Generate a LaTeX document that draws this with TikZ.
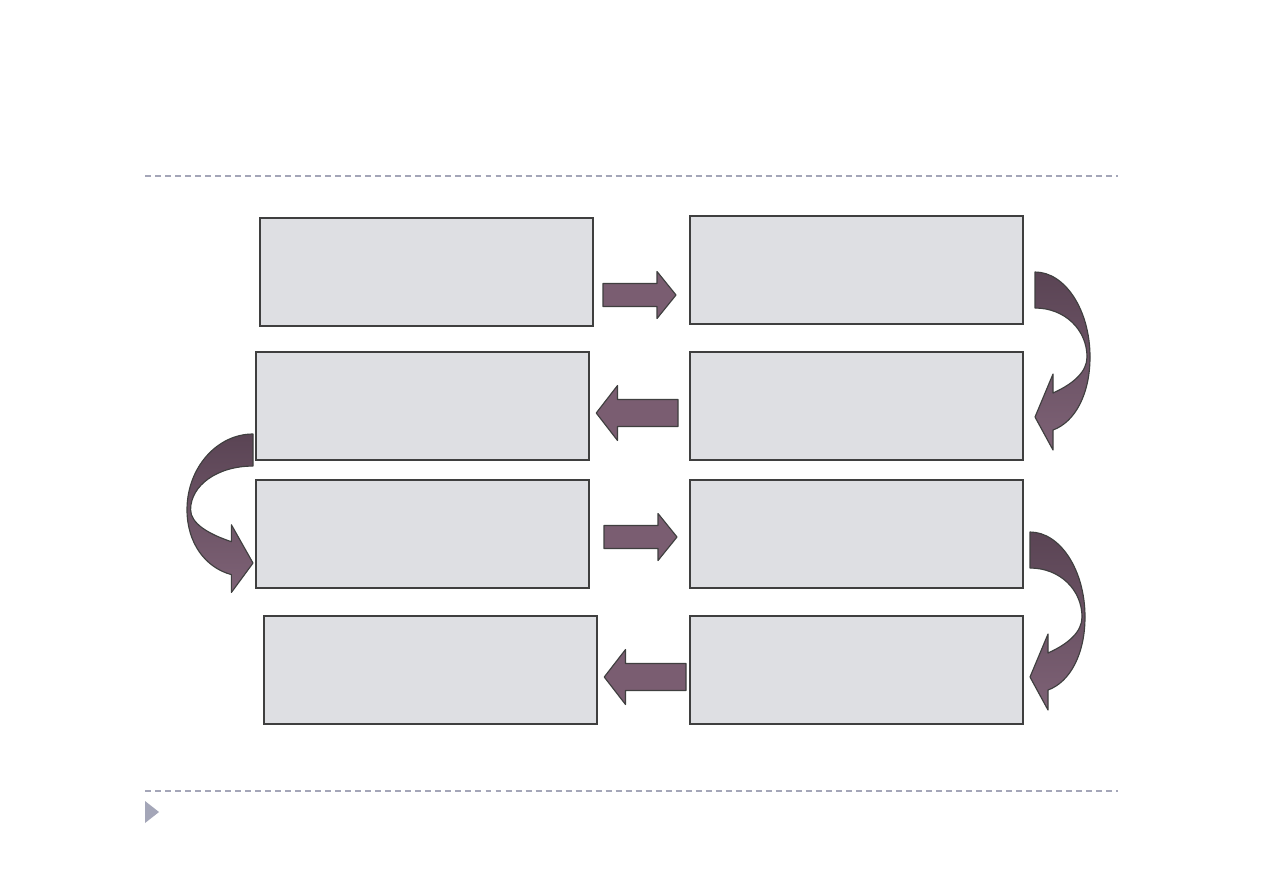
\documentclass[tikz,border=0pt]{standalone}
\usetikzlibrary{positioning}
\definecolor{boxfill}{HTML}{DEDFE3}
\definecolor{boxline}{HTML}{3F3F3F}
\definecolor{arrowtop}{HTML}{5A4454}
\definecolor{arrowbot}{HTML}{7E6276}
\definecolor{arrowfill}{HTML}{7A5D71}
\definecolor{rulegray}{HTML}{A4A6B8}
\begin{document}
\begin{tikzpicture}[x=0.02cm, y=-0.02cm,
    stage/.style={rectangle, draw=boxline, line width=0.65pt, fill=boxfill,
                  minimum width=6.66cm, minimum height=2.16cm, inner sep=0pt},
    arrline/.style={draw=boxline, line width=0.65pt, line join=round},
    rule/.style={rulegray, line width=0.9pt, dash pattern=on 3.4pt off 2.3pt},
    flatarrow/.pic={
      \draw[arrline, fill=arrowfill] (0,-11.5) -- (54,-11.5) -- (54,-23.5)
        -- (73,0) -- (54,23.5) -- (54,11.5) -- (0,11.5) -- cycle;
    },
    bendarrow/.pic={
      \draw[arrline, top color=arrowtop, bottom color=arrowbot]
        (0,0) .. controls (30,0) and (55,38) .. (55,85)
        .. controls (55,122) and (40,150) .. (18,158)
        -- (18,178) -- (0,145) -- (18,102) -- (18,121)
        .. controls (38,112) and (52,100) .. (52,85)
        .. controls (52,58) and (30,36) .. (0,36) -- cycle;
    }
  ]
  \useasboundingbox[fill=white] (0,0) rectangle (1263,893);
  % rules
  \draw[rule] (145,176) -- (1118,176);
  \draw[rule] (145,791) -- (1118,791);
  \fill[rulegray] (145,801) -- (159,812) -- (145,823) -- cycle;
  % boxes
  \node[stage] (s1) at (426.5,272) {};
  \node[stage] (s2) at (856.5,270) {};
  \node[stage] (s3) at (422.5,406) {};
  \node[stage] (s4) at (856.5,406) {};
  \node[stage] (s5) at (422.5,534) {};
  \node[stage] (s6) at (856.5,534) {};
  \node[stage] (s7) at (430.5,670) {};
  \node[stage] (s8) at (856.5,670) {};
  % block arrows
  \pic at (603,295) {flatarrow};
  \pic[xscale=-1.12, yscale=1.17] at (678,413) {flatarrow};
  \pic at (604,537) {flatarrow};
  \pic[xscale=-1.12, yscale=1.17] at (686,677) {flatarrow};
  \pic at (1035,272) {bendarrow};
  \pic at (1030,532) {bendarrow};
  \pic[xscale=-1.2, yscale=0.89] at (253,434) {bendarrow};
\end{tikzpicture}
\end{document}
